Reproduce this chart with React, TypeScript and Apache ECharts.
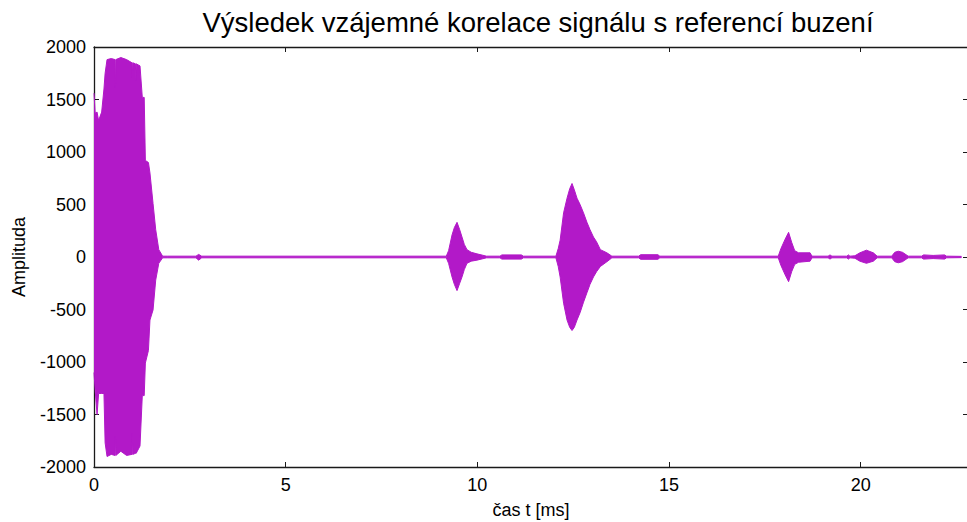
import React, { useEffect, useRef } from "react";
import * as echarts from "echarts";

// Envelope of the cross-correlation signal (time in ms, amplitude)
const envTime = [
  0, 0.03, 0.08, 0.12, 0.2, 0.26, 0.29, 0.34, 0.45, 0.55, 0.56, 0.57, 0.7, 0.85, 0.99, 1.0, 1.01, 1.08, 1.09, 1.1,
  1.2, 1.26, 1.31, 1.34, 1.42, 1.46, 1.54, 1.61, 1.69, 1.79,
  1.91, 2.66, 2.73, 2.81,
  9.19, 9.25, 9.34, 9.4, 9.47, 9.54, 9.6, 9.66, 9.73, 9.84, 9.99, 10.24,
  10.59, 10.64, 11.15, 11.2,
  12.05, 12.11, 12.16, 12.25, 12.34, 12.41, 12.47, 12.53, 12.6, 12.68, 12.77, 12.86, 12.94, 13.03, 13.11, 13.21, 13.38, 13.51,
  14.21, 14.26, 14.71, 14.76,
  17.85, 17.92, 18.03, 18.12, 18.2, 18.28, 18.38, 18.68, 18.73,
  19.15, 19.2, 19.25, 19.64, 19.68, 19.72,
  19.85, 19.98, 20.15, 20.33, 20.43,
  20.81, 20.89, 20.98, 21.09, 21.24,
  21.59, 21.64, 21.89, 22.19, 22.24, 22.63,
];
const envUpper = [
  1560, 1370, 1380, 1300, 1380, 1600, 1750, 1880, 1890, 1880, 1610, 1880, 1900, 1880, 1850, 1710, 1850, 1840, 1680, 1840,
  1820, 1520, 1520, 920, 900, 800, 510, 260, 70, 8,
  8, 8, 25, 8,
  8, 60, 210, 280, 330, 260, 190, 120, 70, 45, 30, 8,
  8, 20, 20, 8,
  8, 80, 160, 420, 560, 650, 700, 640, 560, 500, 420, 330, 260, 190, 145, 70, 40, 8,
  8, 22, 22, 8,
  8, 80, 170, 235, 140, 60, 40, 40, 8,
  8, 20, 8, 8, 20, 8,
  12, 40, 65, 40, 8,
  8, 45, 55, 45, 8,
  8, 20, 15, 20, 8, 6,
];
const envLower = [
  -1100, -1270, -1500, -1300, -1300, -1300, -1770, -1900, -1880, -1890, -1710, -1890, -1850, -1890, -1880, -1680, -1880, -1870, -1870, -1870,
  -1800, -1320, -1320, -1010, -890, -600, -505, -220, -60, -8,
  -8, -8, -30, -8,
  -8, -60, -190, -260, -320, -250, -190, -120, -60, -40, -30, -8,
  -8, -20, -20, -8,
  -8, -90, -190, -440, -600, -670, -700, -670, -600, -530, -430, -340, -260, -190, -140, -90, -45, -8,
  -8, -22, -22, -8,
  -8, -80, -170, -235, -140, -70, -50, -40, -8,
  -8, -20, -8, -8, -20, -8,
  -12, -40, -60, -40, -8,
  -8, -45, -55, -45, -8,
  -8, -20, -15, -20, -8, -6,
];

const xTicks = [0, 5, 10, 15, 20];
const yTicks = [-2000, -1500, -1000, -500, 0, 500, 1000, 1500, 2000];

const TITLE = "Výsledek vzájemné korelace signálu s referencí buzení";
const X_NAME = "čas t [ms]";
const Y_NAME = "Amplituda";

const FONT = "'Liberation Sans', Arial, sans-serif";
const PURPLE = "#b219c8";
const AXIS = "#1a1a1a";

export default function App() {
  const ref = useRef<HTMLDivElement>(null);
  useEffect(() => {
    if (!ref.current) return;
    const chart = echarts.init(ref.current, null, { renderer: "svg" });
    const upper = envTime.map((t, i) => [t, envUpper[i]]);
    const lower = envTime.map((t, i) => [t, envLower[i]]);
    const xMin = xTicks[0];
    const xMax = 22.8;
    const axisLabel = { color: "#000", fontSize: 18, fontFamily: FONT };
    const common = {
      axisLine: { show: true, onZero: false, lineStyle: { color: AXIS, width: 1.3 } },
      axisTick: { show: true, inside: true, length: 5, lineStyle: { color: AXIS } },
      splitLine: { show: false },
    };
    chart.setOption({
      animation: false,
      backgroundColor: "#fff",
      title: {
        text: TITLE,
        left: 533,
        top: 3,
        textAlign: "center",
        textStyle: { fontSize: 27.5, fontWeight: "normal", color: "#000", fontFamily: FONT },
      },
      grid: { left: 94, right: -1, top: 47, bottom: 55, outerBoundsMode: "none", containLabel: false },
      xAxis: [
        {
          type: "value",
          position: "bottom",
          min: xMin,
          max: xMax,
          interval: 5,
          ...common,
          axisLabel: {
            ...axisLabel,
            margin: 9,
            formatter: (v: number) => (xTicks.includes(v) ? String(v) : ""),
          },
          name: X_NAME,
          nameLocation: "middle",
          nameGap: 34,
          nameTextStyle: { color: "#000", fontSize: 18, fontFamily: FONT },
        },
        {
          type: "value",
          position: "top",
          min: xMin,
          max: xMax,
          interval: 5,
          ...common,
          axisLabel: { show: false },
        },
      ],
      yAxis: [
        {
          type: "value",
          position: "left",
          min: yTicks[0],
          max: yTicks[yTicks.length - 1],
          interval: 500,
          ...common,
          axisLabel: { ...axisLabel, margin: 8, formatter: (v: number) => String(v) },
          name: Y_NAME,
          nameLocation: "middle",
          nameGap: 66,
          nameTextStyle: { color: "#000", fontSize: 18, fontFamily: FONT },
        },
        {
          type: "value",
          position: "right",
          min: yTicks[0],
          max: yTicks[yTicks.length - 1],
          interval: 500,
          ...common,
          axisLabel: { show: false },
        },
      ],
      series: [
        {
          type: "line",
          data: upper,
          symbol: "none",
          lineStyle: { color: PURPLE, width: 1 },
          areaStyle: { color: PURPLE, opacity: 1 },
          itemStyle: { color: PURPLE },
        },
        {
          type: "line",
          data: lower,
          symbol: "none",
          lineStyle: { color: PURPLE, width: 1 },
          areaStyle: { color: PURPLE, opacity: 1 },
          itemStyle: { color: PURPLE },
        },
      ],
    });
    return () => chart.dispose();
  }, []);
  return <div ref={ref} style={{ width: 967, height: 522, position: "absolute", left: 0, top: 0 }} />;
}
